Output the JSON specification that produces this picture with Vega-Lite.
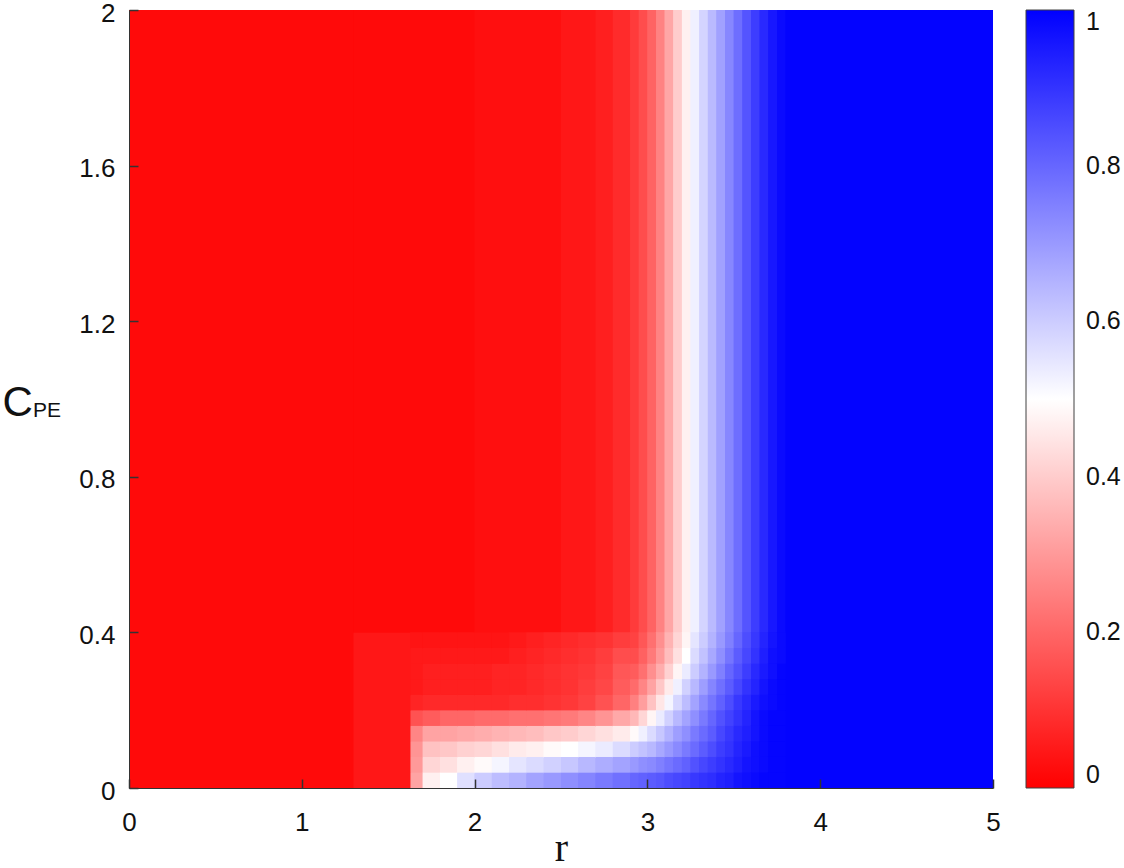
{
"$schema": "https://vega.github.io/schema/vega-lite/v6.json",
"width": 864, "height": 778,
"autosize": {"type": "none"},
"padding": {"left": 129, "top": 10, "right": 131, "bottom": 80},
"background": "white",
"title": {"text": "PE", "orient": "top", "anchor": "start", "frame": "group", "offset": 0, "dx": -96, "dy": 438, "baseline": "alphabetic", "font": "Liberation Sans", "fontSize": 21, "fontWeight": "normal", "color": "#111111"},
"config": {"view": {"stroke": null}, "axis": {"grid": false, "labelFont": "Liberation Sans", "labelFontSize": 26, "labelColor": "#111111", "domainColor": "#333333", "tickColor": "#333333", "labelFlush": false}},
"resolve": {"legend": {"color": "independent", "stroke": "independent"}, "scale": {"color": "independent", "stroke": "independent"}},
"data": {"values": [
{"a":0,"b":1.3,"c":0,"d":2,"v":0.02},
{"a":1.3,"b":1.63,"c":0,"d":0.4,"v":0.045},
{"a":1.3,"b":2,"c":0.4,"d":2,"v":0.02},
{"a":2,"b":2.5,"c":0.4,"d":2,"v":0.03},
{"a":2.5,"b":2.7,"c":0.4,"d":2,"v":0.045},
{"a":2.7,"b":2.8,"c":0.4,"d":2,"v":0.06},
{"a":2.8,"b":2.9,"c":0.4,"d":2,"v":0.085},
{"a":2.9,"b":2.95,"c":0.4,"d":2,"v":0.115},
{"a":2.95,"b":3,"c":0.4,"d":2,"v":0.15},
{"a":3,"b":3.05,"c":0.4,"d":2,"v":0.195},
{"a":3.05,"b":3.1,"c":0.4,"d":2,"v":0.255},
{"a":3.1,"b":3.15,"c":0.4,"d":2,"v":0.325},
{"a":3.15,"b":3.2,"c":0.4,"d":2,"v":0.4},
{"a":3.2,"b":3.25,"c":0.4,"d":2,"v":0.47},
{"a":3.25,"b":3.3,"c":0.4,"d":2,"v":0.53},
{"a":3.3,"b":3.35,"c":0.4,"d":2,"v":0.585},
{"a":3.35,"b":3.4,"c":0.4,"d":2,"v":0.635},
{"a":3.4,"b":3.45,"c":0.4,"d":2,"v":0.685},
{"a":3.45,"b":3.5,"c":0.4,"d":2,"v":0.735},
{"a":3.5,"b":3.55,"c":0.4,"d":2,"v":0.785},
{"a":3.55,"b":3.6,"c":0.4,"d":2,"v":0.835},
{"a":3.6,"b":3.65,"c":0.4,"d":2,"v":0.88},
{"a":3.65,"b":3.7,"c":0.4,"d":2,"v":0.92},
{"a":3.7,"b":3.75,"c":0.4,"d":2,"v":0.955},
{"a":3.75,"b":3.8,"c":0.4,"d":2,"v":0.98},
{"a":3.8,"b":5,"c":0,"d":2,"v":0.995},

{"a":1.63,"b":1.7,"c":0,"d":0.04,"v":0.32},
{"a":1.7,"b":1.8,"c":0,"d":0.04,"v":0.47},
{"a":1.8,"b":1.9,"c":0,"d":0.04,"v":0.5},
{"a":1.9,"b":2,"c":0,"d":0.04,"v":0.56},
{"a":2,"b":2.1,"c":0,"d":0.04,"v":0.6},
{"a":2.1,"b":2.2,"c":0,"d":0.04,"v":0.63},
{"a":2.2,"b":2.3,"c":0,"d":0.04,"v":0.65},
{"a":2.3,"b":2.4,"c":0,"d":0.04,"v":0.68},
{"a":2.4,"b":2.5,"c":0,"d":0.04,"v":0.7},
{"a":2.5,"b":2.6,"c":0,"d":0.04,"v":0.72},
{"a":2.6,"b":2.7,"c":0,"d":0.04,"v":0.74},
{"a":2.7,"b":2.8,"c":0,"d":0.04,"v":0.76},
{"a":2.8,"b":2.9,"c":0,"d":0.04,"v":0.78},
{"a":2.9,"b":2.95,"c":0,"d":0.04,"v":0.8},
{"a":2.95,"b":3,"c":0,"d":0.04,"v":0.81},
{"a":3,"b":3.05,"c":0,"d":0.04,"v":0.82},
{"a":3.05,"b":3.1,"c":0,"d":0.04,"v":0.83},
{"a":3.1,"b":3.15,"c":0,"d":0.04,"v":0.85},
{"a":3.15,"b":3.2,"c":0,"d":0.04,"v":0.86},
{"a":3.2,"b":3.25,"c":0,"d":0.04,"v":0.87},
{"a":3.25,"b":3.3,"c":0,"d":0.04,"v":0.89},
{"a":3.3,"b":3.35,"c":0,"d":0.04,"v":0.9},
{"a":3.35,"b":3.4,"c":0,"d":0.04,"v":0.91},
{"a":3.4,"b":3.45,"c":0,"d":0.04,"v":0.93},
{"a":3.45,"b":3.5,"c":0,"d":0.04,"v":0.94},
{"a":3.5,"b":3.55,"c":0,"d":0.04,"v":0.96},
{"a":3.55,"b":3.6,"c":0,"d":0.04,"v":0.97},
{"a":3.6,"b":3.65,"c":0,"d":0.04,"v":0.98},
{"a":3.65,"b":3.7,"c":0,"d":0.04,"v":0.99},
{"a":3.7,"b":3.75,"c":0,"d":0.04,"v":0.99},
{"a":3.75,"b":3.8,"c":0,"d":0.04,"v":0.99},

{"a":1.63,"b":1.7,"c":0.04,"d":0.08,"v":0.3},
{"a":1.7,"b":1.8,"c":0.04,"d":0.08,"v":0.42},
{"a":1.8,"b":1.9,"c":0.04,"d":0.08,"v":0.44},
{"a":1.9,"b":2,"c":0.04,"d":0.08,"v":0.47},
{"a":2,"b":2.1,"c":0.04,"d":0.08,"v":0.49},
{"a":2.1,"b":2.2,"c":0.04,"d":0.08,"v":0.52},
{"a":2.2,"b":2.3,"c":0.04,"d":0.08,"v":0.55},
{"a":2.3,"b":2.4,"c":0.04,"d":0.08,"v":0.57},
{"a":2.4,"b":2.5,"c":0.04,"d":0.08,"v":0.59},
{"a":2.5,"b":2.6,"c":0.04,"d":0.08,"v":0.61},
{"a":2.6,"b":2.7,"c":0.04,"d":0.08,"v":0.64},
{"a":2.7,"b":2.8,"c":0.04,"d":0.08,"v":0.66},
{"a":2.8,"b":2.9,"c":0.04,"d":0.08,"v":0.68},
{"a":2.9,"b":2.95,"c":0.04,"d":0.08,"v":0.7},
{"a":2.95,"b":3,"c":0.04,"d":0.08,"v":0.72},
{"a":3,"b":3.05,"c":0.04,"d":0.08,"v":0.73},
{"a":3.05,"b":3.1,"c":0.04,"d":0.08,"v":0.75},
{"a":3.1,"b":3.15,"c":0.04,"d":0.08,"v":0.77},
{"a":3.15,"b":3.2,"c":0.04,"d":0.08,"v":0.79},
{"a":3.2,"b":3.25,"c":0.04,"d":0.08,"v":0.81},
{"a":3.25,"b":3.3,"c":0.04,"d":0.08,"v":0.84},
{"a":3.3,"b":3.35,"c":0.04,"d":0.08,"v":0.86},
{"a":3.35,"b":3.4,"c":0.04,"d":0.08,"v":0.88},
{"a":3.4,"b":3.45,"c":0.04,"d":0.08,"v":0.9},
{"a":3.45,"b":3.5,"c":0.04,"d":0.08,"v":0.92},
{"a":3.5,"b":3.55,"c":0.04,"d":0.08,"v":0.94},
{"a":3.55,"b":3.6,"c":0.04,"d":0.08,"v":0.96},
{"a":3.6,"b":3.65,"c":0.04,"d":0.08,"v":0.97},
{"a":3.65,"b":3.7,"c":0.04,"d":0.08,"v":0.98},
{"a":3.7,"b":3.75,"c":0.04,"d":0.08,"v":0.99},
{"a":3.75,"b":3.8,"c":0.04,"d":0.08,"v":0.99},

{"a":1.63,"b":1.7,"c":0.08,"d":0.12,"v":0.29},
{"a":1.7,"b":1.8,"c":0.08,"d":0.12,"v":0.38},
{"a":1.8,"b":1.9,"c":0.08,"d":0.12,"v":0.39},
{"a":1.9,"b":2,"c":0.08,"d":0.12,"v":0.41},
{"a":2,"b":2.1,"c":0.08,"d":0.12,"v":0.42},
{"a":2.1,"b":2.2,"c":0.08,"d":0.12,"v":0.44},
{"a":2.2,"b":2.3,"c":0.08,"d":0.12,"v":0.46},
{"a":2.3,"b":2.4,"c":0.08,"d":0.12,"v":0.47},
{"a":2.4,"b":2.5,"c":0.08,"d":0.12,"v":0.49},
{"a":2.5,"b":2.6,"c":0.08,"d":0.12,"v":0.5},
{"a":2.6,"b":2.7,"c":0.08,"d":0.12,"v":0.52},
{"a":2.7,"b":2.8,"c":0.08,"d":0.12,"v":0.54},
{"a":2.8,"b":2.9,"c":0.08,"d":0.12,"v":0.57},
{"a":2.9,"b":2.95,"c":0.08,"d":0.12,"v":0.6},
{"a":2.95,"b":3,"c":0.08,"d":0.12,"v":0.62},
{"a":3,"b":3.05,"c":0.08,"d":0.12,"v":0.64},
{"a":3.05,"b":3.1,"c":0.08,"d":0.12,"v":0.67},
{"a":3.1,"b":3.15,"c":0.08,"d":0.12,"v":0.7},
{"a":3.15,"b":3.2,"c":0.08,"d":0.12,"v":0.73},
{"a":3.2,"b":3.25,"c":0.08,"d":0.12,"v":0.76},
{"a":3.25,"b":3.3,"c":0.08,"d":0.12,"v":0.79},
{"a":3.3,"b":3.35,"c":0.08,"d":0.12,"v":0.82},
{"a":3.35,"b":3.4,"c":0.08,"d":0.12,"v":0.85},
{"a":3.4,"b":3.45,"c":0.08,"d":0.12,"v":0.88},
{"a":3.45,"b":3.5,"c":0.08,"d":0.12,"v":0.9},
{"a":3.5,"b":3.55,"c":0.08,"d":0.12,"v":0.93},
{"a":3.55,"b":3.6,"c":0.08,"d":0.12,"v":0.95},
{"a":3.6,"b":3.65,"c":0.08,"d":0.12,"v":0.97},
{"a":3.65,"b":3.7,"c":0.08,"d":0.12,"v":0.98},
{"a":3.7,"b":3.75,"c":0.08,"d":0.12,"v":0.99},
{"a":3.75,"b":3.8,"c":0.08,"d":0.12,"v":0.99},

{"a":1.63,"b":1.7,"c":0.12,"d":0.16,"v":0.26},
{"a":1.7,"b":1.8,"c":0.12,"d":0.16,"v":0.32},
{"a":1.8,"b":1.9,"c":0.12,"d":0.16,"v":0.32},
{"a":1.9,"b":2,"c":0.12,"d":0.16,"v":0.33},
{"a":2,"b":2.1,"c":0.12,"d":0.16,"v":0.34},
{"a":2.1,"b":2.2,"c":0.12,"d":0.16,"v":0.35},
{"a":2.2,"b":2.3,"c":0.12,"d":0.16,"v":0.36},
{"a":2.3,"b":2.4,"c":0.12,"d":0.16,"v":0.37},
{"a":2.4,"b":2.5,"c":0.12,"d":0.16,"v":0.39},
{"a":2.5,"b":2.6,"c":0.12,"d":0.16,"v":0.4},
{"a":2.6,"b":2.7,"c":0.12,"d":0.16,"v":0.42},
{"a":2.7,"b":2.8,"c":0.12,"d":0.16,"v":0.44},
{"a":2.8,"b":2.9,"c":0.12,"d":0.16,"v":0.46},
{"a":2.9,"b":2.95,"c":0.12,"d":0.16,"v":0.49},
{"a":2.95,"b":3,"c":0.12,"d":0.16,"v":0.53},
{"a":3,"b":3.05,"c":0.12,"d":0.16,"v":0.57},
{"a":3.05,"b":3.1,"c":0.12,"d":0.16,"v":0.61},
{"a":3.1,"b":3.15,"c":0.12,"d":0.16,"v":0.65},
{"a":3.15,"b":3.2,"c":0.12,"d":0.16,"v":0.69},
{"a":3.2,"b":3.25,"c":0.12,"d":0.16,"v":0.72},
{"a":3.25,"b":3.3,"c":0.12,"d":0.16,"v":0.76},
{"a":3.3,"b":3.35,"c":0.12,"d":0.16,"v":0.79},
{"a":3.35,"b":3.4,"c":0.12,"d":0.16,"v":0.82},
{"a":3.4,"b":3.45,"c":0.12,"d":0.16,"v":0.86},
{"a":3.45,"b":3.5,"c":0.12,"d":0.16,"v":0.89},
{"a":3.5,"b":3.55,"c":0.12,"d":0.16,"v":0.92},
{"a":3.55,"b":3.6,"c":0.12,"d":0.16,"v":0.94},
{"a":3.6,"b":3.65,"c":0.12,"d":0.16,"v":0.96},
{"a":3.65,"b":3.7,"c":0.12,"d":0.16,"v":0.98},
{"a":3.7,"b":3.75,"c":0.12,"d":0.16,"v":0.99},
{"a":3.75,"b":3.8,"c":0.12,"d":0.16,"v":0.99},

{"a":1.63,"b":1.7,"c":0.16,"d":0.2,"v":0.16},
{"a":1.7,"b":1.8,"c":0.16,"d":0.2,"v":0.18},
{"a":1.8,"b":1.9,"c":0.16,"d":0.2,"v":0.2},
{"a":1.9,"b":2,"c":0.16,"d":0.2,"v":0.2},
{"a":2,"b":2.1,"c":0.16,"d":0.2,"v":0.21},
{"a":2.1,"b":2.2,"c":0.16,"d":0.2,"v":0.21},
{"a":2.2,"b":2.3,"c":0.16,"d":0.2,"v":0.22},
{"a":2.3,"b":2.4,"c":0.16,"d":0.2,"v":0.22},
{"a":2.4,"b":2.5,"c":0.16,"d":0.2,"v":0.23},
{"a":2.5,"b":2.6,"c":0.16,"d":0.2,"v":0.24},
{"a":2.6,"b":2.7,"c":0.16,"d":0.2,"v":0.26},
{"a":2.7,"b":2.8,"c":0.16,"d":0.2,"v":0.29},
{"a":2.8,"b":2.9,"c":0.16,"d":0.2,"v":0.33},
{"a":2.9,"b":2.95,"c":0.16,"d":0.2,"v":0.36},
{"a":2.95,"b":3,"c":0.16,"d":0.2,"v":0.42},
{"a":3,"b":3.05,"c":0.16,"d":0.2,"v":0.48},
{"a":3.05,"b":3.1,"c":0.16,"d":0.2,"v":0.54},
{"a":3.1,"b":3.15,"c":0.16,"d":0.2,"v":0.59},
{"a":3.15,"b":3.2,"c":0.16,"d":0.2,"v":0.64},
{"a":3.2,"b":3.25,"c":0.16,"d":0.2,"v":0.68},
{"a":3.25,"b":3.3,"c":0.16,"d":0.2,"v":0.72},
{"a":3.3,"b":3.35,"c":0.16,"d":0.2,"v":0.76},
{"a":3.35,"b":3.4,"c":0.16,"d":0.2,"v":0.8},
{"a":3.4,"b":3.45,"c":0.16,"d":0.2,"v":0.84},
{"a":3.45,"b":3.5,"c":0.16,"d":0.2,"v":0.87},
{"a":3.5,"b":3.55,"c":0.16,"d":0.2,"v":0.9},
{"a":3.55,"b":3.6,"c":0.16,"d":0.2,"v":0.93},
{"a":3.6,"b":3.65,"c":0.16,"d":0.2,"v":0.96},
{"a":3.65,"b":3.7,"c":0.16,"d":0.2,"v":0.98},
{"a":3.7,"b":3.75,"c":0.16,"d":0.2,"v":0.99},
{"a":3.75,"b":3.8,"c":0.16,"d":0.2,"v":0.99},

{"a":1.63,"b":1.7,"c":0.2,"d":0.24,"v":0.07},
{"a":1.7,"b":1.8,"c":0.2,"d":0.24,"v":0.08},
{"a":1.8,"b":1.9,"c":0.2,"d":0.24,"v":0.08},
{"a":1.9,"b":2,"c":0.2,"d":0.24,"v":0.08},
{"a":2,"b":2.1,"c":0.2,"d":0.24,"v":0.08},
{"a":2.1,"b":2.2,"c":0.2,"d":0.24,"v":0.08},
{"a":2.2,"b":2.3,"c":0.2,"d":0.24,"v":0.09},
{"a":2.3,"b":2.4,"c":0.2,"d":0.24,"v":0.09},
{"a":2.4,"b":2.5,"c":0.2,"d":0.24,"v":0.1},
{"a":2.5,"b":2.6,"c":0.2,"d":0.24,"v":0.11},
{"a":2.6,"b":2.7,"c":0.2,"d":0.24,"v":0.13},
{"a":2.7,"b":2.8,"c":0.2,"d":0.24,"v":0.16},
{"a":2.8,"b":2.9,"c":0.2,"d":0.24,"v":0.2},
{"a":2.9,"b":2.95,"c":0.2,"d":0.24,"v":0.25},
{"a":2.95,"b":3,"c":0.2,"d":0.24,"v":0.31},
{"a":3,"b":3.05,"c":0.2,"d":0.24,"v":0.38},
{"a":3.05,"b":3.1,"c":0.2,"d":0.24,"v":0.45},
{"a":3.1,"b":3.15,"c":0.2,"d":0.24,"v":0.52},
{"a":3.15,"b":3.2,"c":0.2,"d":0.24,"v":0.58},
{"a":3.2,"b":3.25,"c":0.2,"d":0.24,"v":0.63},
{"a":3.25,"b":3.3,"c":0.2,"d":0.24,"v":0.68},
{"a":3.3,"b":3.35,"c":0.2,"d":0.24,"v":0.73},
{"a":3.35,"b":3.4,"c":0.2,"d":0.24,"v":0.77},
{"a":3.4,"b":3.45,"c":0.2,"d":0.24,"v":0.81},
{"a":3.45,"b":3.5,"c":0.2,"d":0.24,"v":0.85},
{"a":3.5,"b":3.55,"c":0.2,"d":0.24,"v":0.89},
{"a":3.55,"b":3.6,"c":0.2,"d":0.24,"v":0.92},
{"a":3.6,"b":3.65,"c":0.2,"d":0.24,"v":0.95},
{"a":3.65,"b":3.7,"c":0.2,"d":0.24,"v":0.97},
{"a":3.7,"b":3.75,"c":0.2,"d":0.24,"v":0.98},
{"a":3.75,"b":3.8,"c":0.2,"d":0.24,"v":0.99},

{"a":1.63,"b":1.7,"c":0.24,"d":0.28,"v":0.05},
{"a":1.7,"b":1.8,"c":0.24,"d":0.28,"v":0.06},
{"a":1.8,"b":1.9,"c":0.24,"d":0.28,"v":0.06},
{"a":1.9,"b":2,"c":0.24,"d":0.28,"v":0.06},
{"a":2,"b":2.1,"c":0.24,"d":0.28,"v":0.06},
{"a":2.1,"b":2.2,"c":0.24,"d":0.28,"v":0.07},
{"a":2.2,"b":2.3,"c":0.24,"d":0.28,"v":0.07},
{"a":2.3,"b":2.4,"c":0.24,"d":0.28,"v":0.08},
{"a":2.4,"b":2.5,"c":0.24,"d":0.28,"v":0.09},
{"a":2.5,"b":2.6,"c":0.24,"d":0.28,"v":0.1},
{"a":2.6,"b":2.7,"c":0.24,"d":0.28,"v":0.12},
{"a":2.7,"b":2.8,"c":0.24,"d":0.28,"v":0.14},
{"a":2.8,"b":2.9,"c":0.24,"d":0.28,"v":0.18},
{"a":2.9,"b":2.95,"c":0.24,"d":0.28,"v":0.21},
{"a":2.95,"b":3,"c":0.24,"d":0.28,"v":0.26},
{"a":3,"b":3.05,"c":0.24,"d":0.28,"v":0.32},
{"a":3.05,"b":3.1,"c":0.24,"d":0.28,"v":0.39},
{"a":3.1,"b":3.15,"c":0.24,"d":0.28,"v":0.46},
{"a":3.15,"b":3.2,"c":0.24,"d":0.28,"v":0.53},
{"a":3.2,"b":3.25,"c":0.24,"d":0.28,"v":0.59},
{"a":3.25,"b":3.3,"c":0.24,"d":0.28,"v":0.64},
{"a":3.3,"b":3.35,"c":0.24,"d":0.28,"v":0.69},
{"a":3.35,"b":3.4,"c":0.24,"d":0.28,"v":0.74},
{"a":3.4,"b":3.45,"c":0.24,"d":0.28,"v":0.78},
{"a":3.45,"b":3.5,"c":0.24,"d":0.28,"v":0.82},
{"a":3.5,"b":3.55,"c":0.24,"d":0.28,"v":0.86},
{"a":3.55,"b":3.6,"c":0.24,"d":0.28,"v":0.9},
{"a":3.6,"b":3.65,"c":0.24,"d":0.28,"v":0.93},
{"a":3.65,"b":3.7,"c":0.24,"d":0.28,"v":0.96},
{"a":3.7,"b":3.75,"c":0.24,"d":0.28,"v":0.98},
{"a":3.75,"b":3.8,"c":0.24,"d":0.28,"v":0.99},

{"a":1.63,"b":1.7,"c":0.28,"d":0.32,"v":0.05},
{"a":1.7,"b":1.8,"c":0.28,"d":0.32,"v":0.06},
{"a":1.8,"b":1.9,"c":0.28,"d":0.32,"v":0.06},
{"a":1.9,"b":2,"c":0.28,"d":0.32,"v":0.06},
{"a":2,"b":2.1,"c":0.28,"d":0.32,"v":0.06},
{"a":2.1,"b":2.2,"c":0.28,"d":0.32,"v":0.07},
{"a":2.2,"b":2.3,"c":0.28,"d":0.32,"v":0.07},
{"a":2.3,"b":2.4,"c":0.28,"d":0.32,"v":0.08},
{"a":2.4,"b":2.5,"c":0.28,"d":0.32,"v":0.09},
{"a":2.5,"b":2.6,"c":0.28,"d":0.32,"v":0.1},
{"a":2.6,"b":2.7,"c":0.28,"d":0.32,"v":0.11},
{"a":2.7,"b":2.8,"c":0.28,"d":0.32,"v":0.13},
{"a":2.8,"b":2.9,"c":0.28,"d":0.32,"v":0.17},
{"a":2.9,"b":2.95,"c":0.28,"d":0.32,"v":0.18},
{"a":2.95,"b":3,"c":0.28,"d":0.32,"v":0.22},
{"a":3,"b":3.05,"c":0.28,"d":0.32,"v":0.28},
{"a":3.05,"b":3.1,"c":0.28,"d":0.32,"v":0.34},
{"a":3.1,"b":3.15,"c":0.28,"d":0.32,"v":0.41},
{"a":3.15,"b":3.2,"c":0.28,"d":0.32,"v":0.48},
{"a":3.2,"b":3.25,"c":0.28,"d":0.32,"v":0.54},
{"a":3.25,"b":3.3,"c":0.28,"d":0.32,"v":0.6},
{"a":3.3,"b":3.35,"c":0.28,"d":0.32,"v":0.65},
{"a":3.35,"b":3.4,"c":0.28,"d":0.32,"v":0.7},
{"a":3.4,"b":3.45,"c":0.28,"d":0.32,"v":0.75},
{"a":3.45,"b":3.5,"c":0.28,"d":0.32,"v":0.8},
{"a":3.5,"b":3.55,"c":0.28,"d":0.32,"v":0.84},
{"a":3.55,"b":3.6,"c":0.28,"d":0.32,"v":0.88},
{"a":3.6,"b":3.65,"c":0.28,"d":0.32,"v":0.92},
{"a":3.65,"b":3.7,"c":0.28,"d":0.32,"v":0.95},
{"a":3.7,"b":3.75,"c":0.28,"d":0.32,"v":0.97},
{"a":3.75,"b":3.8,"c":0.28,"d":0.32,"v":0.99},

{"a":1.63,"b":1.7,"c":0.32,"d":0.36,"v":0.05},
{"a":1.7,"b":1.8,"c":0.32,"d":0.36,"v":0.05},
{"a":1.8,"b":1.9,"c":0.32,"d":0.36,"v":0.05},
{"a":1.9,"b":2,"c":0.32,"d":0.36,"v":0.05},
{"a":2,"b":2.1,"c":0.32,"d":0.36,"v":0.05},
{"a":2.1,"b":2.2,"c":0.32,"d":0.36,"v":0.05},
{"a":2.2,"b":2.3,"c":0.32,"d":0.36,"v":0.06},
{"a":2.3,"b":2.4,"c":0.32,"d":0.36,"v":0.07},
{"a":2.4,"b":2.5,"c":0.32,"d":0.36,"v":0.08},
{"a":2.5,"b":2.6,"c":0.32,"d":0.36,"v":0.09},
{"a":2.6,"b":2.7,"c":0.32,"d":0.36,"v":0.1},
{"a":2.7,"b":2.8,"c":0.32,"d":0.36,"v":0.12},
{"a":2.8,"b":2.9,"c":0.32,"d":0.36,"v":0.15},
{"a":2.9,"b":2.95,"c":0.32,"d":0.36,"v":0.15},
{"a":2.95,"b":3,"c":0.32,"d":0.36,"v":0.19},
{"a":3,"b":3.05,"c":0.32,"d":0.36,"v":0.24},
{"a":3.05,"b":3.1,"c":0.32,"d":0.36,"v":0.3},
{"a":3.1,"b":3.15,"c":0.32,"d":0.36,"v":0.37},
{"a":3.15,"b":3.2,"c":0.32,"d":0.36,"v":0.44},
{"a":3.2,"b":3.25,"c":0.32,"d":0.36,"v":0.5},
{"a":3.25,"b":3.3,"c":0.32,"d":0.36,"v":0.57},
{"a":3.3,"b":3.35,"c":0.32,"d":0.36,"v":0.62},
{"a":3.35,"b":3.4,"c":0.32,"d":0.36,"v":0.67},
{"a":3.4,"b":3.45,"c":0.32,"d":0.36,"v":0.72},
{"a":3.45,"b":3.5,"c":0.32,"d":0.36,"v":0.77},
{"a":3.5,"b":3.55,"c":0.32,"d":0.36,"v":0.82},
{"a":3.55,"b":3.6,"c":0.32,"d":0.36,"v":0.86},
{"a":3.6,"b":3.65,"c":0.32,"d":0.36,"v":0.9},
{"a":3.65,"b":3.7,"c":0.32,"d":0.36,"v":0.94},
{"a":3.7,"b":3.75,"c":0.32,"d":0.36,"v":0.97},
{"a":3.75,"b":3.8,"c":0.32,"d":0.36,"v":0.98},

{"a":1.63,"b":1.7,"c":0.36,"d":0.4,"v":0.04},
{"a":1.7,"b":1.8,"c":0.36,"d":0.4,"v":0.04},
{"a":1.8,"b":1.9,"c":0.36,"d":0.4,"v":0.04},
{"a":1.9,"b":2,"c":0.36,"d":0.4,"v":0.04},
{"a":2,"b":2.1,"c":0.36,"d":0.4,"v":0.04},
{"a":2.1,"b":2.2,"c":0.36,"d":0.4,"v":0.04},
{"a":2.2,"b":2.3,"c":0.36,"d":0.4,"v":0.05},
{"a":2.3,"b":2.4,"c":0.36,"d":0.4,"v":0.06},
{"a":2.4,"b":2.5,"c":0.36,"d":0.4,"v":0.07},
{"a":2.5,"b":2.6,"c":0.36,"d":0.4,"v":0.08},
{"a":2.6,"b":2.7,"c":0.36,"d":0.4,"v":0.09},
{"a":2.7,"b":2.8,"c":0.36,"d":0.4,"v":0.1},
{"a":2.8,"b":2.9,"c":0.36,"d":0.4,"v":0.12},
{"a":2.9,"b":2.95,"c":0.36,"d":0.4,"v":0.13},
{"a":2.95,"b":3,"c":0.36,"d":0.4,"v":0.17},
{"a":3,"b":3.05,"c":0.36,"d":0.4,"v":0.22},
{"a":3.05,"b":3.1,"c":0.36,"d":0.4,"v":0.28},
{"a":3.1,"b":3.15,"c":0.36,"d":0.4,"v":0.35},
{"a":3.15,"b":3.2,"c":0.36,"d":0.4,"v":0.42},
{"a":3.2,"b":3.25,"c":0.36,"d":0.4,"v":0.48},
{"a":3.25,"b":3.3,"c":0.36,"d":0.4,"v":0.55},
{"a":3.3,"b":3.35,"c":0.36,"d":0.4,"v":0.6},
{"a":3.35,"b":3.4,"c":0.36,"d":0.4,"v":0.65},
{"a":3.4,"b":3.45,"c":0.36,"d":0.4,"v":0.7},
{"a":3.45,"b":3.5,"c":0.36,"d":0.4,"v":0.75},
{"a":3.5,"b":3.55,"c":0.36,"d":0.4,"v":0.8},
{"a":3.55,"b":3.6,"c":0.36,"d":0.4,"v":0.85},
{"a":3.6,"b":3.65,"c":0.36,"d":0.4,"v":0.89},
{"a":3.65,"b":3.7,"c":0.36,"d":0.4,"v":0.93},
{"a":3.7,"b":3.75,"c":0.36,"d":0.4,"v":0.96},
{"a":3.75,"b":3.8,"c":0.36,"d":0.4,"v":0.98}
]},
"encoding": {
  "x": {"field": "a", "type": "quantitative", "scale": {"domain": [0, 5], "nice": false, "zero": false},
        "axis": {"values": [0, 1, 2, 3, 4, 5], "format": "~g", "zindex": 1, "ticks": true, "tickSize": -9, "tickWidth": 1.5, "title": "r", "titleFont": "Liberation Serif", "titleFontSize": 40, "titleFontWeight": "normal", "titleColor": "#111111", "titleY": 72, "titleBaseline": "alphabetic", "labelPadding": 30}},
  "x2": {"field": "b"},
  "y": {"field": "c", "type": "quantitative", "scale": {"domain": [0, 2], "nice": false, "zero": false},
        "axis": {"values": [0, 0.4, 0.8, 1.2, 1.6, 2], "format": "~g", "zindex": 1, "ticks": true, "tickSize": -9, "tickWidth": 1.5, "labelOffset": 3, "title": "C", "titleFont": "Liberation Sans", "titleFontSize": 42, "titleFontWeight": "normal", "titleColor": "#111111", "titleAngle": 0, "titleAlign": "left", "titleBaseline": "alphabetic", "titleX": -127, "titleY": 405, "labelPadding": 23}},
  "y2": {"field": "d"}
},
"layer": [
  {"mark": {"type": "rect", "filled": false, "strokeWidth": 1.6, "clip": true},
   "encoding": {"stroke": {"field": "v", "type": "quantitative",
            "scale": {"domain": [0, 0.5, 1], "range": ["#ff0000", "#ffffff", "#0000ff"], "interpolate": "rgb"},
            "legend": null}}},
  {"mark": {"type": "rect", "clip": true},
   "encoding": {"color": {"field": "v", "type": "quantitative",
            "scale": {"domain": [0, 0.5, 1], "range": ["#ff0000", "#ffffff", "#0000ff"], "interpolate": "rgb"},
            "legend": {"type": "gradient", "title": null, "orient": "none", "legendX": 897, "legendY": 0, "direction": "vertical", "gradientLength": 778, "gradientThickness": 48, "values": [0, 0.2, 0.4, 0.6, 0.8, 1], "format": "~g", "labelFont": "Liberation Sans", "labelFontSize": 25, "labelColor": "#111111", "labelOffset": 12, "labelBaseline": "middle", "labelOverlap": false, "gradientStrokeColor": "#404040", "gradientStrokeWidth": 1}}}}
]
}
